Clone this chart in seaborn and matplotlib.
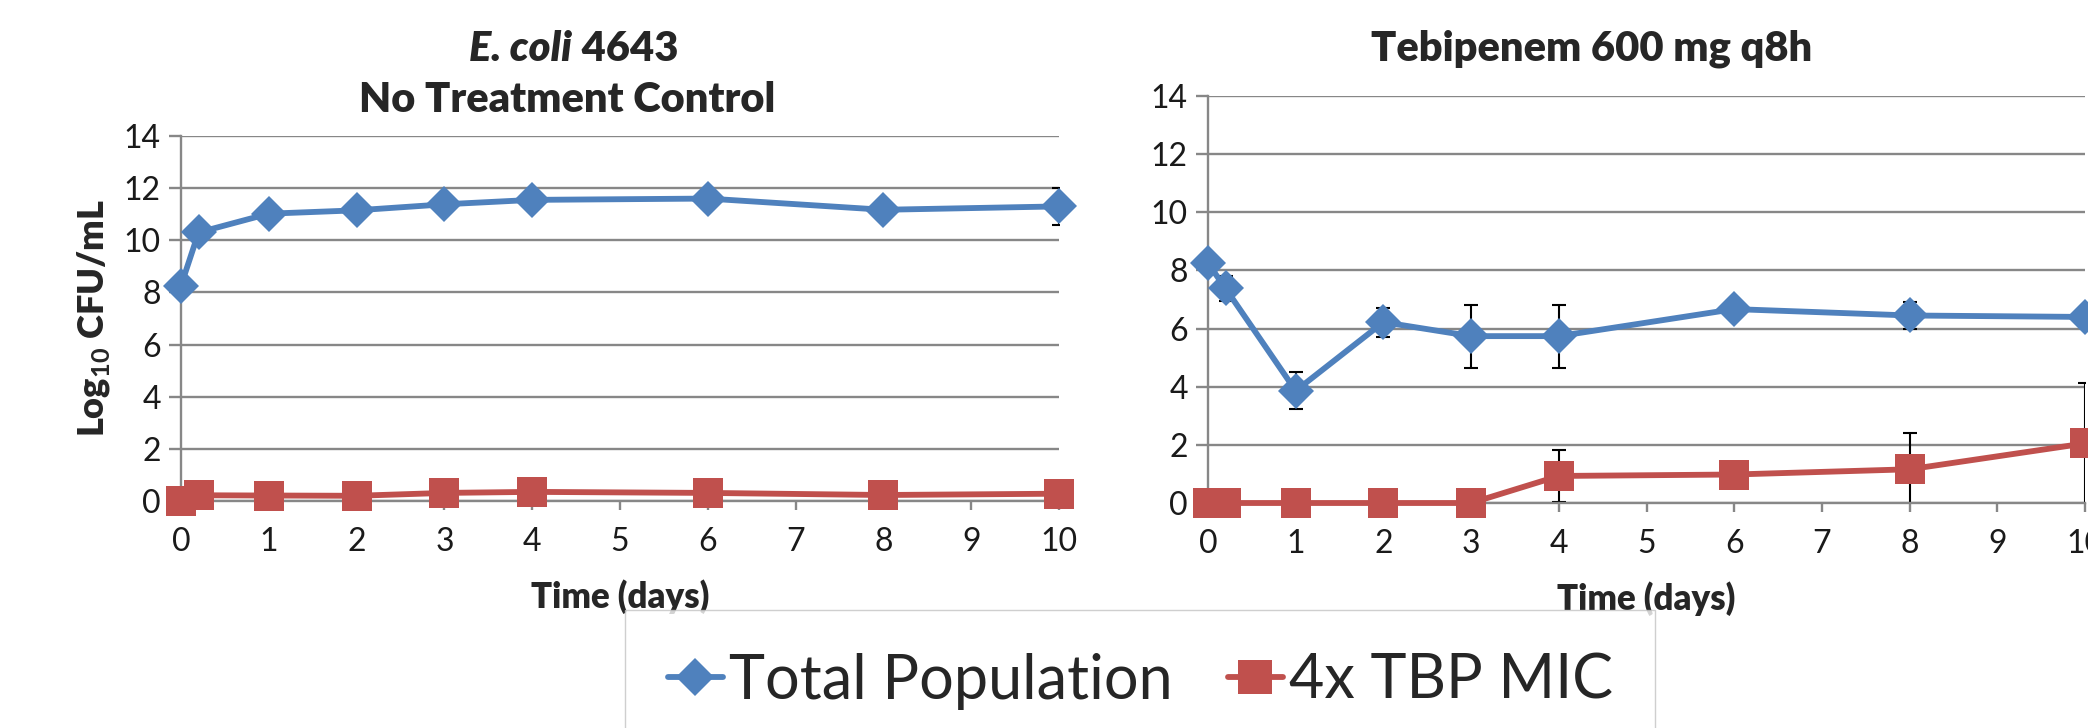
import pandas as pd
import seaborn as sns
import matplotlib.pyplot as plt
from matplotlib.lines import Line2D

# time points (days) and log10 CFU/mL
days = [0, 0.2, 1, 2, 3, 4, 6, 8, 10]

control_total = [8.26, 10.3, 11.02, 11.15, 11.38, 11.55, 11.6, 11.17, 11.3]
control_total_err = [0, 0, 0, 0, 0, 0, 0, 0, 0.7]
control_mic = [0.0, 0.22, 0.21, 0.2, 0.31, 0.35, 0.31, 0.23, 0.28]
control_mic_err = [0, 0, 0, 0, 0, 0, 0, 0, 0]

tbp_total = [8.25, 7.38, 3.86, 6.22, 5.74, 5.74, 6.67, 6.45, 6.4]
tbp_total_err = [0, 0.42, 0.64, 0.5, 1.08, 1.08, 0, 0.45, 0]
tbp_mic = [0, 0, 0, 0, 0, 0.93, 0.98, 1.16, 2.05]
tbp_mic_err = [0, 0, 0, 0, 0, 0.9, 0, 1.25, 2.07]

series_names = ["Total Population", "4x TBP MIC"]
x_ticks = list(range(0, 11))
y_ticks = list(range(0, 15, 2))

BLUE = "#4F81BD"
RED = "#C0504D"
GRID = "#878787"
W, H = 2088, 728

sns.set_style("white")
plt.rcParams["font.family"] = ["Lato", "DejaVu Sans"]
plt.rcParams["mathtext.fontset"] = "custom"
plt.rcParams["mathtext.rm"] = "Lato"
plt.rcParams["mathtext.bf"] = "Lato:bold"

fig = plt.figure(figsize=(W / 100, H / 100), dpi=100)
ax_l = fig.add_axes([181 / W, 1 - 501 / H, 878 / W, 365 / H])
ax_r = fig.add_axes([1208 / W, 1 - 503 / H, 877 / W, 407 / H])

styles = {
    "Total Population": dict(color=BLUE, marker="D", markersize=18),
    "4x TBP MIC": dict(color=RED, marker="s", markersize=21),
}


def draw_panel(ax, total, total_err, mic, mic_err):
    df = pd.DataFrame({
        "days": days * 2,
        "log_cfu": total + mic,
        "err": total_err + mic_err,
        "series": [series_names[0]] * len(days) + [series_names[1]] * len(days),
    })
    for name in series_names:
        sub = df[df["series"] == name]
        ax.errorbar(sub["days"], sub["log_cfu"], yerr=sub["err"], fmt="none",
                    ecolor="black", elinewidth=1.5, capsize=5, capthick=1.5, zorder=2)
        sns.lineplot(data=sub, x="days", y="log_cfu", ax=ax, linewidth=4.2,
                     markeredgewidth=0, clip_on=False, legend=False, zorder=3,
                     **styles[name])

    ax.set_xlim(0, 10)
    ax.set_ylim(0, 14)
    ax.set_xticks(x_ticks)
    ax.set_yticks(y_ticks)
    ax.yaxis.grid(True, color=GRID, linewidth=1.7)
    ax.set_axisbelow(True)
    for side in ["top", "right"]:
        ax.spines[side].set_visible(False)
    for side in ["left", "bottom"]:
        ax.spines[side].set_color(GRID)
        ax.spines[side].set_linewidth(1.7)
    ax.tick_params(axis="x", direction="out", length=6.5, width=1.7, color=GRID,
                   labelsize=23, pad=12, labelcolor="#1a1a1a", bottom=True)
    ax.tick_params(axis="y", direction="out", length=8.6, width=1.7, color=GRID,
                   labelsize=23, pad=6, labelcolor="#1a1a1a", left=True)
    ax.set_xlabel("Time (days)", fontsize=25, fontweight="heavy", labelpad=16)
    ax.set_ylabel("")


draw_panel(ax_l, control_total, control_total_err, control_mic, control_mic_err)
draw_panel(ax_r, tbp_total, tbp_total_err, tbp_mic, tbp_mic_err)

ax_l.set_ylabel(r"Log$_\mathbf{10}$ CFU/mL", fontsize=26, fontweight="heavy", labelpad=8)

# titles
TITLE_SIZE = 30
t1 = fig.text(572 / W, 1 - 49 / H, "E. coli", ha="right", va="center",
              fontsize=TITLE_SIZE, fontweight="heavy", fontstyle="italic")
ax_l.annotate(" 4643", xy=(1, 0), xycoords=t1, ha="left", va="bottom",
              fontsize=TITLE_SIZE, fontweight="heavy", annotation_clip=False)
fig.text(567 / W, 1 - 100 / H, "No Treatment Control", ha="center", va="center",
         fontsize=TITLE_SIZE, fontweight="heavy")
fig.text(1592 / W, 1 - 49 / H, "Tebipenem 600 mg q8h", ha="center", va="center",
         fontsize=TITLE_SIZE, fontweight="heavy")

# shared legend
handles = [
    Line2D([], [], color=BLUE, marker="D", markersize=19, markeredgewidth=0, linewidth=4.2),
    Line2D([], [], color=RED, marker="s", markersize=24, markeredgewidth=0, linewidth=4.2),
]
leg = fig.legend(handles, series_names, loc="upper left",
                 bbox_to_anchor=(625 / W, 1 - 610 / H), borderaxespad=0,
                 ncol=2, fontsize=44, frameon=True, fancybox=False,
                 edgecolor="#c4c4c4", handlelength=0.9, handletextpad=0.1,
                 columnspacing=0.9, borderpad=0.7)
leg.get_frame().set_linewidth(1.0)

fig.savefig("out.png", dpi=100)
